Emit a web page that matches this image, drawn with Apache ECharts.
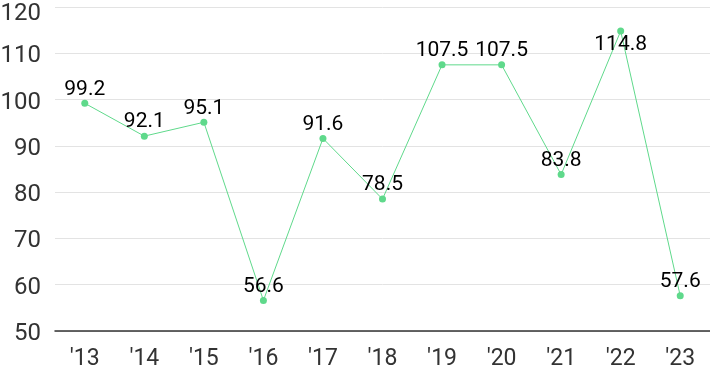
<!DOCTYPE html>
<html><head><meta charset="utf-8">
<script src="https://cdn.jsdelivr.net/npm/echarts@6/dist/echarts.min.js"></script>
<style>html,body{margin:0;padding:0;background:#fff}#c{width:710px;height:371px}</style>
</head><body><div id="c"></div>
<script>
const categories = ["'13","'14","'15","'16","'17","'18","'19","'20","'21","'22","'23"];
const values = [99.2, 92.1, 95.1, 56.6, 91.6, 78.5, 107.5, 107.5, 83.8, 114.8, 57.6];
const labelBelow = ["'22"];
const yMin = 50, yMax = 120, yStep = 10;
const tickFont = {color: '#333', fontSize: 24, fontFamily: 'Roboto'};
const chart = echarts.init(document.getElementById('c'));
chart.setOption({
  animation: false,
  grid: {left: 55, right: 0, top: 7, bottom: 40, containLabel: false, outerBoundsMode: 'none'},
  xAxis: {
    type: 'category', data: categories, boundaryGap: true,
    axisLine: {lineStyle: {color: '#333', width: 1.5}},
    axisTick: {show: false},
    axisLabel: {color: '#333', fontSize: 23, fontFamily: 'Roboto', margin: 17}
  },
  yAxis: {
    type: 'value', min: yMin, max: yMax, interval: yStep,
    axisLine: {show: false}, axisTick: {show: false},
    axisLabel: {
      ...tickFont, margin: 14,
      formatter: v => (v === yMax ? '{t|' + v + '}' : '{n|' + v + '}'),
      rich: {
        t: {...tickFont, padding: [13, 0, 0, 0]},
        n: {...tickFont, padding: [6, 0, 0, 0]}
      }
    },
    splitLine: {lineStyle: {color: '#e3e3e3'}}
  },
  series: [{
    type: 'line',
    data: values.map((v, i) => ({value: v, label: {position: labelBelow.includes(categories[i]) ? 'bottom' : 'top'}})),
    symbol: 'circle', symbolSize: 7,
    itemStyle: {color: '#5fd98b'},
    lineStyle: {color: '#5fd98b', width: 1},
    label: {show: true, color: '#000', fontSize: 21, fontFamily: 'Roboto', distance: 0}
  }]
});
</script></body></html>
